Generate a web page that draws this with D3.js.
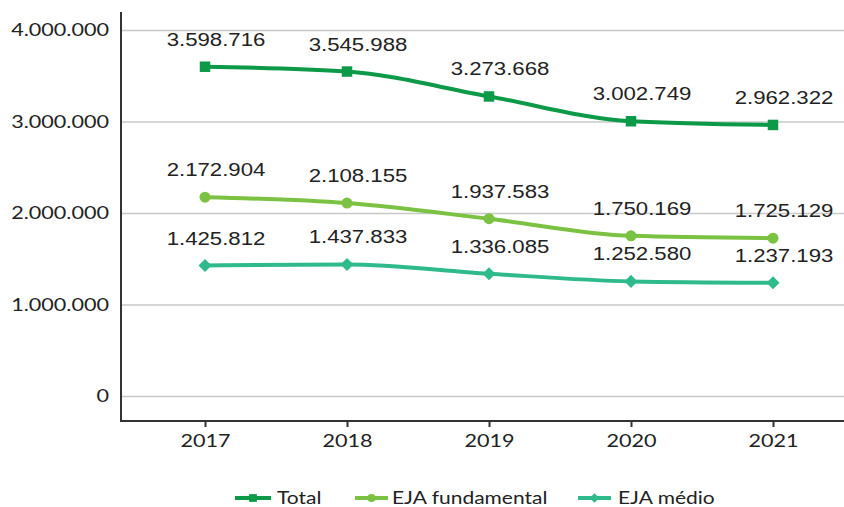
<!DOCTYPE html>
<html>
<head>
<meta charset="utf-8">
<script src="https://cdn.jsdelivr.net/npm/d3@7"></script>
<style>
  body { margin: 0; background: #fff; }
  svg { display: block; }
</style>
</head>
<body>
<script>
'use strict';

// chart data
const years = ['2017', '2018', '2019', '2020', '2021'];
const total = [3598716, 3545988, 3273668, 3002749, 2962322];
const ejaFundamental = [2172904, 2108155, 1937583, 1750169, 1725129];
const ejaMedio = [1425812, 1437833, 1336085, 1252580, 1237193];
const yTicks = [0, 1000000, 2000000, 3000000, 4000000];

const width = 844, height = 507;
const m = {left: 121, right: 844, top: 30, bottom: 396, axisY: 421};
const stretch = 1.2; // the reference text is wide

const locale = d3.formatLocale({decimal: ',', thousands: '.', grouping: [3], currency: ['R$', '']});
const fmt = locale.format(',d');

const svg = d3.select('body').append('svg')
  .attr('width', width)
  .attr('height', height);

const x = d3.scalePoint().domain(years).range([205, 773]);
const y = d3.scaleLinear().domain([0, 4000000]).range([m.bottom, m.top]);

function place(px, py) {
  return 'translate(' + px + ',' + py + ') scale(' + stretch + ',1)';
}

// gridlines
svg.append('g')
  .attr('transform', 'translate(' + m.left + ',0)')
  .call(d3.axisLeft(y).tickValues(yTicks).tickSize(-(m.right - m.left)).tickFormat(''))
  .call(g => g.select('.domain').remove())
  .call(g => g.selectAll('line').attr('stroke', '#c8c8c8').attr('stroke-width', 1.5));

// y tick labels
svg.append('g')
  .selectAll('text')
  .data(yTicks)
  .enter()
  .append('text')
    .attr('transform', d => place(109, y(d)))
    .attr('dy', '0.36em')
    .attr('text-anchor', 'end')
    .style('font-family', 'Lato, sans-serif')
    .style('font-size', '18px')
    .attr('fill', '#222')
    .text(d => fmt(d));

// x axis
const xAxis = svg.append('g')
  .attr('transform', 'translate(0,' + m.axisY + ')')
  .call(d3.axisBottom(x).tickSize(6).tickSizeOuter(0));
xAxis.select('.domain').remove();
xAxis.selectAll('line').attr('stroke', '#333').attr('stroke-width', 2);
xAxis.selectAll('text')
  .attr('y', 0)
  .attr('transform', 'translate(0,13) scale(' + stretch + ',1)')
  .attr('x', 0)
  .attr('dy', '0.71em')
  .style('font-family', 'Lato, sans-serif')
  .style('font-size', '18px')
  .attr('fill', '#222');

// axis lines
svg.append('line')
  .attr('x1', m.left).attr('x2', m.right)
  .attr('y1', m.axisY).attr('y2', m.axisY)
  .attr('stroke', '#333').attr('stroke-width', 2);
svg.append('line')
  .attr('x1', m.left).attr('x2', m.left)
  .attr('y1', 12).attr('y2', m.axisY + 1)
  .attr('stroke', '#333').attr('stroke-width', 2);

const series = [
  {name: 'Total', values: total, color: '#0c9a48', symbol: d3.symbolSquare, size: 110, rot: 0},
  {name: 'EJA fundamental', values: ejaFundamental, color: '#7cc242', symbol: d3.symbolCircle, size: 95, rot: 0},
  {name: 'EJA médio', values: ejaMedio, color: '#2fba8c', symbol: d3.symbolSquare, size: 85, rot: 45}
];

const line = d3.line()
  .x((d, i) => x(years[i]))
  .y(d => y(d))
  .curve(d3.curveMonotoneX);

series.forEach(s => {
  svg.append('path')
    .datum(s.values)
    .attr('d', line)
    .attr('fill', 'none')
    .attr('stroke', s.color)
    .attr('stroke-width', 4);

  svg.append('g')
    .selectAll('path')
    .data(s.values)
    .enter()
    .append('path')
      .attr('d', d3.symbol().type(s.symbol).size(s.size))
      .attr('transform', (d, i) => 'translate(' + x(years[i]) + ',' + y(d) + ') rotate(' + s.rot + ')')
      .attr('fill', s.color);

  // value labels sit a little right of the points
  svg.append('g')
    .selectAll('text')
    .data(s.values)
    .enter()
    .append('text')
      .attr('transform', (d, i) => place(x(years[i]) + 11, y(d) - 21))
      .attr('text-anchor', 'middle')
      .style('font-family', '"Liberation Sans", Arial, sans-serif')
      .style('font-size', '18.5px')
      .attr('fill', '#222')
      .text(d => fmt(d));
});

// legend
const legendPos = [{x1: 235, x2: 271, tx: 277}, {x1: 355, x2: 388, tx: 392}, {x1: 578, x2: 611, tx: 618}];
const legendY = 498;
series.forEach((s, i) => {
  const p = legendPos[i];
  svg.append('line')
    .attr('x1', p.x1).attr('x2', p.x2)
    .attr('y1', legendY).attr('y2', legendY)
    .attr('stroke', s.color).attr('stroke-width', 4);
  svg.append('path')
    .attr('d', d3.symbol().type(s.symbol).size(s.size * 0.55))
    .attr('transform', 'translate(' + (p.x1 + p.x2) / 2 + ',' + legendY + ') rotate(' + s.rot + ')')
    .attr('fill', s.color);
  svg.append('text')
    .attr('transform', place(p.tx, legendY))
    .attr('dy', '0.36em')
    .style('font-family', 'Lato, sans-serif')
    .style('font-size', '17.5px')
    .attr('fill', '#222')
    .text(s.name);
});
</script>
</body>
</html>
